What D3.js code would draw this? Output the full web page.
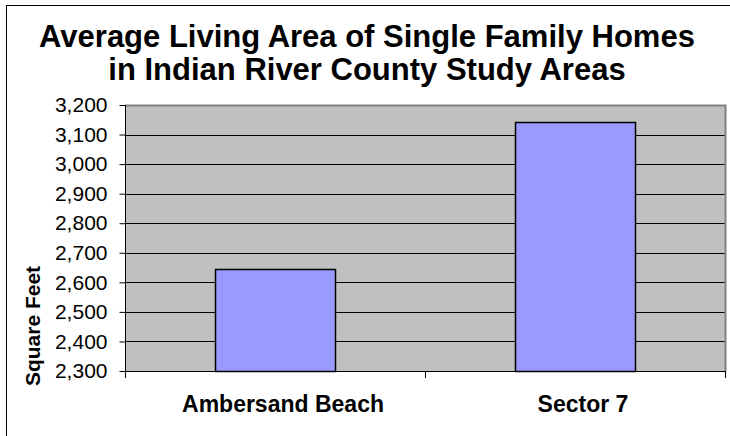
<!DOCTYPE html>
<html>
<head>
  <meta charset="utf-8">
  <script src="https://cdn.jsdelivr.net/npm/d3@7"></script>
  <style>
    html, body {
        margin:0px;
        padding:0px;
        background:#fff;
    }
    text {
        font-family: Arial, "Liberation Sans", sans-serif;
    }
  </style>
  <title></title>
</head>
<body>
<script>
    // chart data
    var categories = ["Ambersand Beach", "Sector 7"];
    var values = [2645, 3143];
    var yTicks = [2300, 2400, 2500, 2600, 2700, 2800, 2900, 3000, 3100, 3200];
    var titleLines = ["Average Living Area of Single Family Homes", "in Indian River County Study Areas"];
    var yTitle = "Square Feet";

    var width = 730, height = 436;
    var plot = {left:125, right:725, top:105, bottom:371};

    var svg = d3.select("body").append("svg")
        .attr("width", width)
        .attr("height", height);

    // outer chart frame (right and bottom edge fall outside the picture)
    svg.append("rect")
        .attr("x", 6.5).attr("y", 5.5)
        .attr("width", 760).attr("height", 460)
        .style("fill", "#fff")
        .style("stroke", "#000");

    var x = d3.scaleBand()
        .domain(categories)
        .range([plot.left, plot.right])
        .paddingInner(0.6)
        .paddingOuter(0.3);

    var y = d3.scaleLinear()
        .domain([yTicks[0], yTicks[yTicks.length - 1]])
        .range([plot.bottom, plot.top]);

    // plot background
    svg.append("rect")
        .attr("x", plot.left).attr("y", plot.top)
        .attr("width", plot.right - plot.left)
        .attr("height", plot.bottom - plot.top)
        .style("fill", "#c0c0c0");

    // gridlines
    svg.append("g").selectAll("line")
        .data(yTicks.slice(1, -1))
        .enter().append("line")
        .attr("x1", plot.left).attr("x2", plot.right)
        .attr("y1", function(d){ return Math.round(y(d)) + 0.5; })
        .attr("y2", function(d){ return Math.round(y(d)) + 0.5; })
        .style("stroke", "#000");

    // plot border top/right
    svg.append("path")
        .attr("d", "M" + plot.left + "," + (plot.top + 0.5) + "H" + (plot.right + 0.5) + "V" + plot.bottom)
        .style("fill", "none")
        .style("stroke", "#808080")
        .style("stroke-width", 2);

    // bars
    svg.append("g").selectAll("rect")
        .data(values)
        .enter().append("rect")
        .attr("x", function(d, i){ return x(categories[i]) + 0.5; })
        .attr("y", function(d){ return Math.round(y(d)) + 0.5; })
        .attr("width", x.bandwidth())
        .attr("height", function(d){ return plot.bottom - Math.round(y(d)); })
        .style("fill", "#9999ff")
        .style("stroke", "#000")
        .style("stroke-width", 1.5);

    // y axis
    var yAxis = d3.axisLeft(y)
        .tickValues(yTicks)
        .tickSize(6)
        .tickPadding(12)
        .tickFormat(d3.format(","));
    var gy = svg.append("g")
        .attr("transform", "translate(" + (plot.left + 0.5) + ",0)")
        .call(yAxis);
    gy.selectAll("text")
        .style("font-size", "21px")
        .style("fill", "#000");
    gy.selectAll("line, path").style("stroke", "#000");
    gy.select(".domain").attr("d", "M0," + plot.top + "V" + (plot.bottom + 0.5));

    // x axis line and ticks between categories
    svg.append("line")
        .attr("x1", plot.left).attr("x2", plot.right + 1)
        .attr("y1", plot.bottom + 0.5).attr("y2", plot.bottom + 0.5)
        .style("stroke", "#000");
    svg.append("g").selectAll("line")
        .data([plot.left, x.step() + plot.left, plot.right])
        .enter().append("line")
        .attr("x1", function(d){ return d + 0.5; })
        .attr("x2", function(d){ return d + 0.5; })
        .attr("y1", plot.bottom).attr("y2", plot.bottom + 7)
        .style("stroke", "#000");

    // category labels
    svg.append("g").selectAll("text")
        .data(categories)
        .enter().append("text")
        .attr("x", function(d){ return x(d) + x.bandwidth() / 2 + 8; })
        .attr("y", 412)
        .attr("text-anchor", "middle")
        .style("font-size", "23px")
        .style("font-weight", "bold")
        .text(function(d){ return d; });

    // y axis title
    svg.append("text")
        .attr("transform", "translate(40,326) rotate(-90)")
        .attr("text-anchor", "middle")
        .style("font-size", "21px")
        .style("font-weight", "bold")
        .text(yTitle);

    // chart title
    svg.append("g").selectAll("text")
        .data(titleLines)
        .enter().append("text")
        .attr("x", 367)
        .attr("y", function(d, i){ return 47 + i * 33; })
        .attr("text-anchor", "middle")
        .style("font-size", "31px")
        .style("font-weight", "bold")
        .text(function(d){ return d; });
</script>
</body>
</html>
